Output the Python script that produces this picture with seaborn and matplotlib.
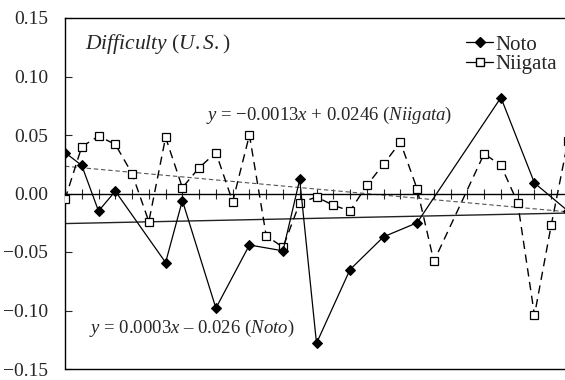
import matplotlib
matplotlib.use("Agg")
import matplotlib.pyplot as plt
import seaborn as sns
import numpy as np
import pandas as pd
from matplotlib.lines import Line2D

# series positions (1..31) and values
idx = list(range(1, 32))
niigata = [-0.005, 0.040, 0.049, 0.042, 0.017, -0.024, 0.048, 0.005, 0.022, 0.035,
           -0.007, 0.050, -0.036, -0.046, -0.008, -0.003, -0.010, -0.015, 0.007, 0.025,
           0.044, 0.004, -0.058, np.nan, np.nan, 0.034, 0.024, -0.008, -0.104, -0.027,
           0.045]
noto_x = [1, 2, 3, 4, 7, 8, 10, 12, 14, 15, 16, 18, 20, 22, 27, 29, 31]
noto = [0.035, 0.024, -0.015, 0.002, -0.059, -0.006, -0.098, -0.044, -0.049, 0.012,
        -0.128, -0.065, -0.037, -0.025, 0.082, 0.009, -0.015]

# regression coefficients printed on the chart
noto_fit = (0.0003, -0.026)
niigata_fit = (-0.0013, 0.0246)

df_ni = pd.DataFrame({"x": idx, "y": niigata}).dropna()
df_no = pd.DataFrame({"x": noto_x, "y": noto})

sns.set_style("white")
plt.rcParams["font.family"] = ["Liberation Serif", "DejaVu Serif"]
plt.rcParams["mathtext.fontset"] = "custom"
plt.rcParams["mathtext.it"] = "Liberation Serif:italic"
plt.rcParams["mathtext.rm"] = "Liberation Serif"

fig = plt.figure(figsize=(5.65, 3.8), dpi=100)
ax = fig.add_axes([65 / 565, 11 / 380, 503 / 565, 351 / 380])

xs = np.array([1, 31])
ax.plot(xs, niigata_fit[0] * xs + niigata_fit[1], color="#555555", lw=0.8,
        ls=(0, (4, 2.5)), zorder=1)
ax.plot(xs, noto_fit[0] * xs + noto_fit[1], color="#222222", lw=1.0, zorder=1)

sns.lineplot(data=df_ni, x="x", y="y", ax=ax, color="black", lw=1.0,
             linestyle=(0, (6, 4)), marker="s", markersize=6,
             markerfacecolor="white", markeredgecolor="black", markeredgewidth=0.9,
             zorder=3)
sns.lineplot(data=df_no, x="x", y="y", ax=ax, color="black", lw=0.9,
             marker="D", markersize=5.5, markerfacecolor="black",
             markeredgecolor="black", zorder=4)

ax.set_xlim(1, 31)
ax.set_ylim(-0.15, 0.15)
ax.set_yticks([-0.15, -0.10, -0.05, 0.00, 0.05, 0.10, 0.15])
ax.set_yticklabels(["\u22120.15", "\u22120.10", "\u22120.05", "0.00", "0.05", "0.10", "0.15"],
                   fontsize=14)
ax.tick_params(axis="y", direction="in", length=5, width=0.8, left=True, pad=12)
ax.set_xticks(idx)
ax.set_xticklabels([])
ax.tick_params(axis="x", direction="inout", length=7, width=0.8, bottom=True)
ax.spines["bottom"].set_position(("data", 0))
ax.spines["right"].set_visible(False)
for s in ["left", "top", "bottom"]:
    ax.spines[s].set_color("black")
    ax.spines[s].set_linewidth(1.0)
ax.axhline(-0.15, color="black", lw=1.0, clip_on=False)
ax.set_xlabel("")
ax.set_ylabel("")

ax.text(2.2, 0.128, r"$Difficulty$ ($U.S.$)", fontsize=15.5, va="center")
ax.text(9.4, 0.067, r"$y$ = " + "\u2212" + r"0.0013$x$ + 0.0246 ($Niigata$)",
        fontsize=13.5, va="center")
ax.text(2.45, -0.1155, r"$y$ = 0.0003$x$ " + "\u2013" + r" 0.026 ($Noto$)",
        fontsize=13.5, va="center")

handles = [
    Line2D([], [], color="black", lw=0.9, marker="D", markersize=5.5,
           markerfacecolor="black"),
    Line2D([], [], color="black", lw=0.9, marker="s", markersize=6,
           markerfacecolor="white"),
]
ax.legend(handles, ["Noto", "Niigata"], loc="upper right", bbox_to_anchor=(0.995, 0.975),
          frameon=False, fontsize=15, handlelength=1.3, handletextpad=0.1,
          labelspacing=0.0, borderaxespad=0)

fig.savefig("out.png", dpi=100)
